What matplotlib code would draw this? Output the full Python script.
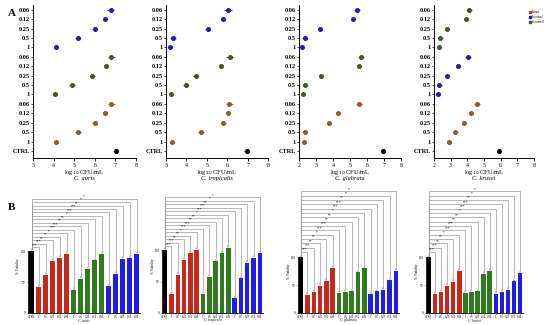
import numpy as np
import matplotlib.pyplot as plt

plt.rcParams['font.family'] = ['Liberation Serif', 'DejaVu Serif']

# ---------- panel A data (log10 CFU/mL), bottom-to-top within group ----------
conc = ["1", "0.5", "0.25", "0.12", "0.06"]
species = ["C. auris", "C. tropicalis", "C. glabrata", "C. krusei"]

auris_brown = [4.10, 5.19, 6.00, 6.50, 6.80]
auris_green = [4.08, 4.90, 5.88, 6.53, 6.80]
auris_blue = [4.13, 5.19, 6.00, 6.50, 6.77]
auris_ctrl = 7.02

trop_brown = [3.28, 4.73, 5.81, 6.02, 6.10]
trop_green = [3.23, 3.96, 4.45, 5.68, 6.14]
trop_blue = [3.20, 3.36, 5.04, 5.81, 6.04]
trop_ctrl = 6.95

glab_brown = [2.28, 2.33, 3.74, 4.27, 5.55]
glab_green = [2.22, 2.37, 3.27, 5.53, 5.63]
glab_blue = [2.20, 2.35, 3.24, 5.20, 5.43]
glab_ctrl = 6.96

krus_brown = [2.90, 3.26, 3.80, 4.22, 4.56]
krus_blue = [2.22, 2.32, 2.80, 3.46, 4.04]
krus_green = [2.28, 2.36, 2.80, 3.90, 4.10]
krus_ctrl = 5.89

err_a = [0.08, 0.15, 0.12, 0.10, 0.18]

legend_labels = ["Extract", "Fraction I", "Fraction II"]

# ---------- panel B data (% viability) ----------
bar_labels = ["CTRL"] + conc * 3
auris_red = [42, 61, 84, 89, 95]
auris_grn = [37, 55, 71, 85, 95]
auris_blu = [44, 63, 87, 89, 95]

trop_red = [31, 60, 85, 95, 100]
trop_grn = [31, 58, 82, 96, 103]
trop_blu = [24, 55, 80, 88, 96]

glab_red = [33, 38, 49, 58, 81]
glab_grn = [36, 38, 39, 73, 80]
glab_blu = [34, 39, 42, 59, 76]

krus_red = [34, 38, 49, 56, 75]
krus_grn = [36, 38, 39, 70, 75]
krus_blu = [34, 38, 41, 57, 71]

stars = ["***", "***", "**", "**", "*", "***", "***", "**", "**", "*",
         "***", "***", "**", "*", "*"]

BROWN = "#8a5d33"
GREEN_A = "#3e5a2c"
BLUE_A = "#1e1ea8"
RED = "#c8281c"
GREEN = "#2f7a1c"
BLUE = "#1c1cf0"

W, H = 550, 325
fig = plt.figure(figsize=(5.5, 3.25), dpi=100)


def px_axes(left, right, top, bottom):
    return fig.add_axes([left / W, (H - bottom) / H, (right - left) / W, (bottom - top) / H])


def panel_a(ax, groups, ctrl, xmin, name, left, right):
    ypos = 1
    for vals, col in groups:
        y = np.arange(ypos, ypos + 5)
        ax.errorbar(vals, y, xerr=err_a, fmt='o', color=col, ms=2.6,
                    elinewidth=0.6, capsize=0)
        ypos += 5
    ax.errorbar([ctrl], [0], xerr=[0.12], fmt='o', color='black', ms=2.6,
                elinewidth=0.6, capsize=0)
    ax.set_yticks(np.arange(16))
    ax.set_yticklabels(["CTRL"] + conc * 3, fontsize=4.6, fontweight='bold')
    ax.set_xticks(np.arange(xmin, 9))
    ax.tick_params(axis='x', labelsize=4.3, length=2, width=0.6, pad=1.5)
    ax.tick_params(axis='y', length=1.5, width=0.5, pad=1)
    ax.set_xlim(xmin, 8)
    ax.set_ylim(-0.75, 15.5)
    for s in ['top', 'right']:
        ax.spines[s].set_visible(False)
    for s in ['left', 'bottom']:
        ax.spines[s].set_linewidth(0.7)
    cx = (left + right) / 2 / W
    fig.text(cx, 1 - 172 / H, "log$_{10}$ CFU/mL", fontsize=4.6, ha='center', va='center')
    fig.text(cx, 1 - 178.5 / H, name, fontsize=4.6, style='italic', ha='center', va='center')


a1 = px_axes(33, 136, 5, 158)
panel_a(a1, [(auris_brown, BROWN), (auris_green, GREEN_A), (auris_blue, BLUE_A)],
        auris_ctrl, 3, species[0], 33, 136)
a2 = px_axes(166, 268, 5, 158)
panel_a(a2, [(trop_brown, BROWN), (trop_green, GREEN_A), (trop_blue, BLUE_A)],
        trop_ctrl, 3, species[1], 166, 268)
a3 = px_axes(299, 401, 5, 158)
panel_a(a3, [(glab_brown, BROWN), (glab_green, GREEN_A), (glab_blue, BLUE_A)],
        glab_ctrl, 2, species[2], 299, 401)
a4 = px_axes(434, 534, 5, 158)
panel_a(a4, [(krus_brown, BROWN), (krus_blue, BLUE_A), (krus_green, GREEN_A)],
        krus_ctrl, 2, species[3], 434, 534)

handles = [plt.Line2D([], [], marker='s', ls='', color=c, ms=2)
           for c in (BROWN, BLUE_A, GREEN_A)]
fig.legend(handles, legend_labels, loc='upper left', bbox_to_anchor=(528 / W, 1 - 9 / H),
           fontsize=2, frameon=False, handlelength=0.6, handletextpad=0.3,
           labelspacing=0.3, borderpad=0)


def panel_b(ax, red, grn, blu, levels, name, scale_top, left, right):
    vals = [100] + red + grn + blu
    cols = ['black'] + [RED] * 5 + [GREEN] * 5 + [BLUE] * 5
    x = np.arange(16)
    ax.bar(x, vals, width=0.72, color=cols)
    ax.errorbar(x, vals, yerr=3, fmt='none', ecolor='#555555', elinewidth=0.3,
                capsize=0.6, capthick=0.3)
    for i in range(1, 16):
        lv = levels[i - 1]
        ax.plot([0, 0, i, i], [103, lv, lv, vals[i] + 5], color='#9a9a9a', lw=0.5)
        ax.text(i / 2, lv + 0.5, stars[i - 1], ha='center', va='bottom', fontsize=2.6)
    ax.set_xlim(-0.5, 15.5)
    ax.set_ylim(0, scale_top)
    ax.set_yticks([0, 50, 100])
    ax.set_yticklabels(["0", "50", "100"], fontsize=2.4)
    ax.set_xticks(x)
    ax.set_xticklabels(bar_labels, fontsize=2.2)
    ax.tick_params(length=1, width=0.4, pad=0.8)
    ax.spines['left'].set_bounds(0, 100)
    for s in ['top', 'right']:
        ax.spines[s].set_visible(False)
    for s in ['left', 'bottom']:
        ax.spines[s].set_linewidth(0.6)
    ax.set_ylabel("% Viability", fontsize=2.4, labelpad=1)
    ax.yaxis.set_label_coords(-0.07, 100 / scale_top * 0.75)
    fig.text((left + right) / 2 / W, 1 - 320.5 / H, name, fontsize=2.6,
             style='italic', ha='center', va='center')


b1 = px_axes(28, 140, 188, 313)
panel_b(b1, auris_red, auris_grn, auris_blu, np.linspace(106, 185, 15), species[0], 202, 28, 140)
b2 = px_axes(162, 263, 188, 313)
panel_b(b2, trop_red, trop_grn, trop_blu, np.linspace(106, 184, 15), species[1], 199, 162, 263)
b3 = px_axes(298, 399, 188, 313)
panel_b(b3, glab_red, glab_grn, glab_blu, np.linspace(109, 218, 15), species[2], 224, 298, 399)
b4 = px_axes(426, 523, 188, 313)
panel_b(b4, krus_red, krus_grn, krus_blu, np.linspace(109, 218, 15), species[3], 224, 426, 523)

fig.text(8 / W, 1 - 13 / H, "A", fontsize=8, fontweight='bold', va='center')
fig.text(8 / W, 1 - 208 / H, "B", fontsize=8, fontweight='bold', va='center')

fig.savefig("out.png", dpi=100)
